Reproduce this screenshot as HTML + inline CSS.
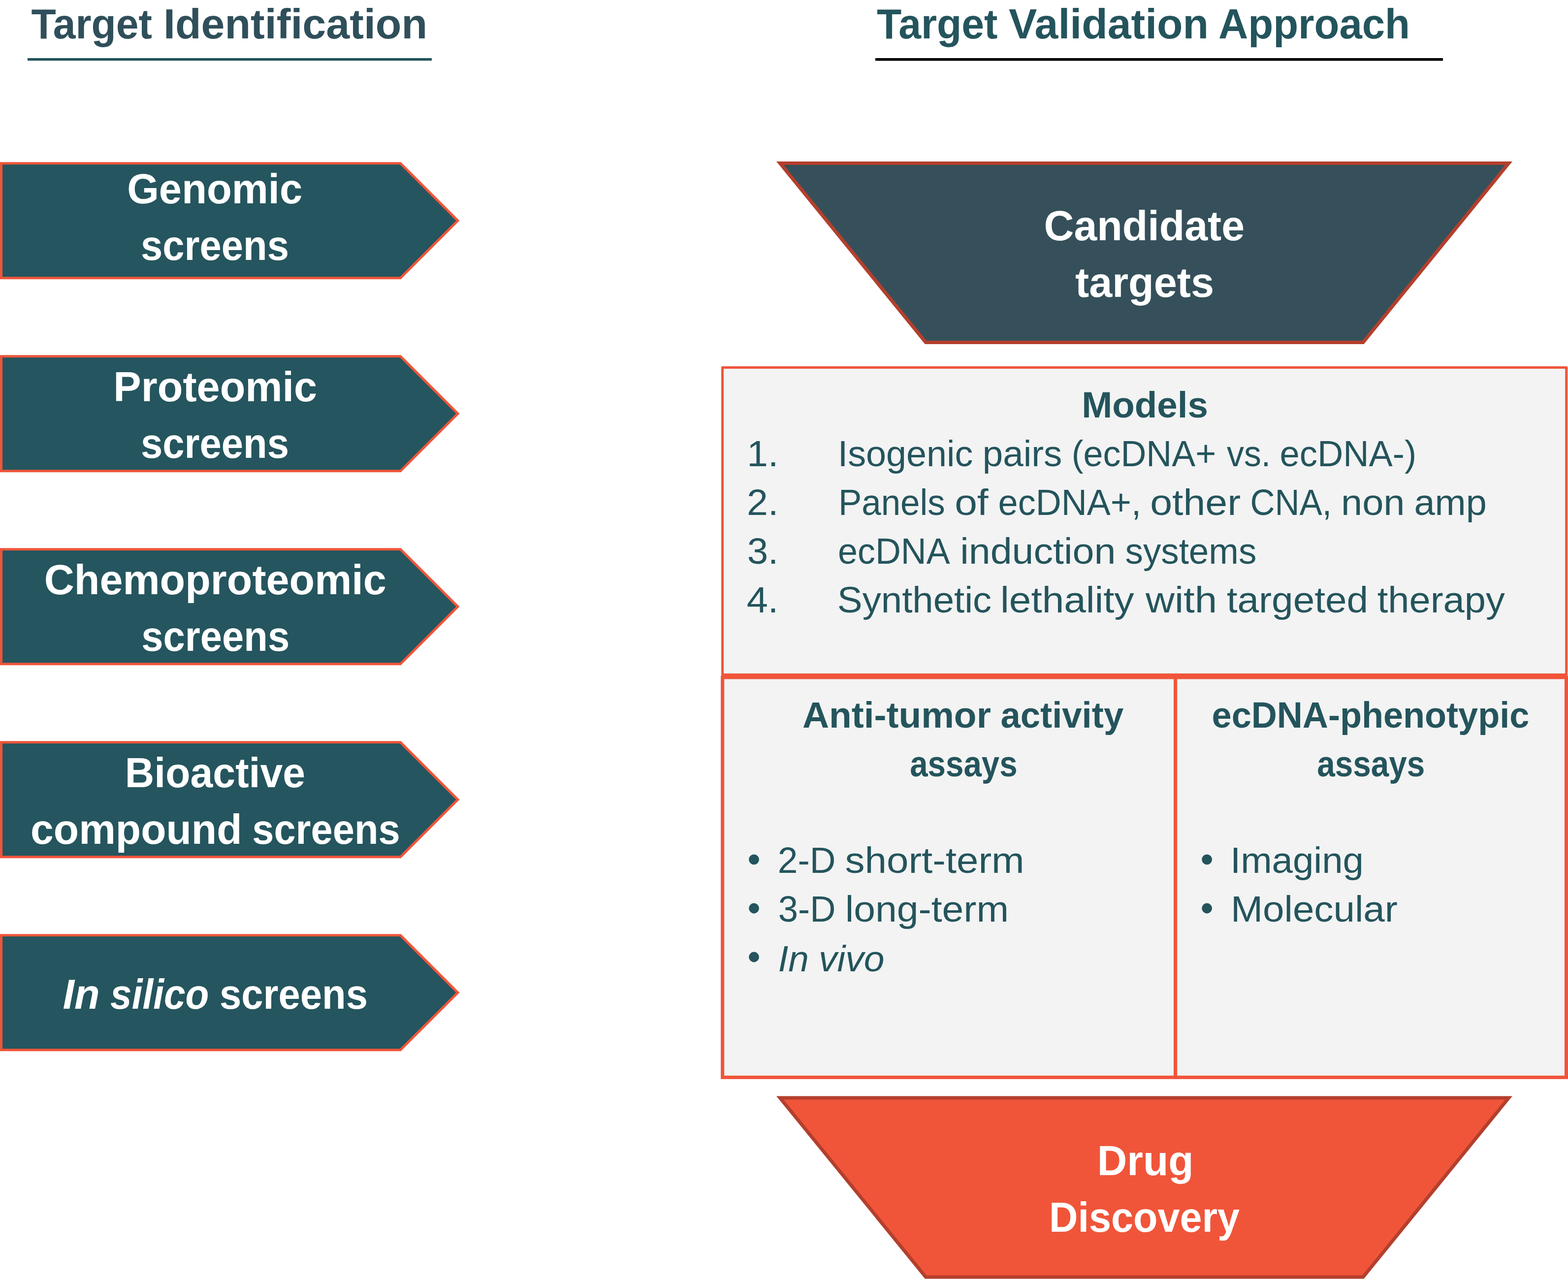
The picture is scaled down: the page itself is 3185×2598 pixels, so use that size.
<!DOCTYPE html>
<html lang="en">
<head>
<meta charset="utf-8">
<title>Target Identification and Target Validation Approach</title>
<style>
html,body{margin:0;padding:0;background:#fff;}
body{width:3185px;height:2598px;overflow:hidden;}
svg{display:block;}
text{font-family:"Liberation Sans",sans-serif;}
</style>
</head>
<body>
<svg xmlns="http://www.w3.org/2000/svg" width="3185" height="2598" viewBox="0 0 3185 2598">
<rect width="3185" height="2598" fill="#fff"/>
<rect x="56" y="118" width="821" height="5.25" fill="#24545C"/>
<rect x="1778" y="118" width="1153" height="5.5" fill="#000"/>
<g fill="#25555E" stroke="#F0553A" stroke-width="5" stroke-linejoin="miter" stroke-miterlimit="10">
<path d="M2.5 331.75H813.4L929.9 448.25L813.4 564.75H2.5Z"/>
<path d="M2.5 723.78H813.4L929.9 840.28L813.4 956.78H2.5Z"/>
<path d="M2.5 1115.81H813.4L929.9 1232.31L813.4 1348.81H2.5Z"/>
<path d="M2.5 1507.84H813.4L929.9 1624.34L813.4 1740.84H2.5Z"/>
<path d="M2.5 1899.87H813.4L929.9 2016.37L813.4 2132.87H2.5Z"/>
</g>
<path d="M1584.3 331.5H3064.7L2768.8 695.5H1880.4Z" fill="#35505A" stroke="#B43F2D" stroke-width="7" stroke-linejoin="miter" stroke-miterlimit="10"/>
<path d="M1584.3 2230.0H3064.7L2768.8 2594.0H1880.4Z" fill="#F0553A" stroke="#B43F2D" stroke-width="7" stroke-linejoin="miter" stroke-miterlimit="10"/>
<rect x="1467.5" y="746.5" width="1714.2" height="624.0" fill="#F3F3F3" stroke="#F0553A" stroke-width="5" stroke-linejoin="round"/>
<rect x="1467.6" y="1376" width="920.0" height="812.4" fill="#F3F3F3" stroke="#F0553A" stroke-width="7"/>
<rect x="2387.6" y="1376" width="793.9" height="812.4" fill="#F3F3F3" stroke="#F0553A" stroke-width="7"/>
<g fill="#24545C">
<circle cx="1531.5" cy="1745.8" r="10.4"/>
<circle cx="1531.5" cy="1845" r="10.4"/>
<circle cx="1531.5" cy="1944" r="10.4"/>
<circle cx="2451.6" cy="1745.8" r="10.4"/>
<circle cx="2451.6" cy="1845" r="10.4"/>
</g>
<text y="78.0" font-size="86.09" font-weight="bold" fill="#2F4F5A"><tspan x="63.54" textLength="245.36" lengthAdjust="spacingAndGlyphs">Target</tspan> <tspan x="331.99" textLength="536.10" lengthAdjust="spacingAndGlyphs">Identification</tspan></text>
<text y="78.0" font-size="86.09" font-weight="bold" fill="#24545C"><tspan x="1781.04" textLength="245.36" lengthAdjust="spacingAndGlyphs">Target</tspan> <tspan x="2049.00" textLength="406.05" lengthAdjust="spacingAndGlyphs">Validation</tspan> <tspan x="2475.06" textLength="388.99" lengthAdjust="spacingAndGlyphs">Approach</tspan></text>
<text x="258.13" y="412.5" font-size="86.09" font-weight="bold" fill="#fff" textLength="356.10" lengthAdjust="spacingAndGlyphs">Genomic</text>
<text x="285.98" y="528" font-size="86.09" font-weight="bold" fill="#fff" textLength="300.97" lengthAdjust="spacingAndGlyphs">screens</text>
<text x="230.35" y="815" font-size="86.09" font-weight="bold" fill="#fff" textLength="413.79" lengthAdjust="spacingAndGlyphs">Proteomic</text>
<text x="285.98" y="930" font-size="86.09" font-weight="bold" fill="#fff" textLength="300.97" lengthAdjust="spacingAndGlyphs">screens</text>
<text x="89.82" y="1207" font-size="86.09" font-weight="bold" fill="#fff" textLength="694.97" lengthAdjust="spacingAndGlyphs">Chemoproteomic</text>
<text x="287.23" y="1322" font-size="86.09" font-weight="bold" fill="#fff" textLength="300.97" lengthAdjust="spacingAndGlyphs">screens</text>
<text x="253.76" y="1599.25" font-size="86.09" font-weight="bold" fill="#fff" textLength="366.36" lengthAdjust="spacingAndGlyphs">Bioactive</text>
<text y="1713.75" font-size="86.09" font-weight="bold" fill="#fff"><tspan x="62.07" textLength="429.43" lengthAdjust="spacingAndGlyphs">compound</tspan> <tspan x="512.23" textLength="300.46" lengthAdjust="spacingAndGlyphs">screens</tspan></text>
<text y="2049.25" font-size="86.09" font-weight="bold" fill="#fff"><tspan x="127.54" font-style="italic" textLength="75.15" lengthAdjust="spacingAndGlyphs">In</tspan> <tspan x="224.09" font-style="italic" textLength="200.21" lengthAdjust="spacingAndGlyphs">silico</tspan> <tspan x="445.98" textLength="300.97" lengthAdjust="spacingAndGlyphs">screens</tspan></text>
<text x="2120.58" y="487.5" font-size="86.09" font-weight="bold" fill="#fff" textLength="407.46" lengthAdjust="spacingAndGlyphs">Candidate</text>
<text x="2184.02" y="603" font-size="86.09" font-weight="bold" fill="#fff" textLength="281.96" lengthAdjust="spacingAndGlyphs">targets</text>
<text x="2228.65" y="2386.5" font-size="86.09" font-weight="bold" fill="#fff" textLength="195.78" lengthAdjust="spacingAndGlyphs">Drug</text>
<text x="2131.11" y="2501.5" font-size="86.09" font-weight="bold" fill="#fff" textLength="386.89" lengthAdjust="spacingAndGlyphs">Discovery</text>
<text x="2197.20" y="848" font-size="73.78" font-weight="bold" fill="#24545C" textLength="256.66" lengthAdjust="spacingAndGlyphs">Models</text>
<text y="946.9" font-size="74.02" fill="#24545C"><tspan x="1517.28" textLength="63.99" lengthAdjust="spacingAndGlyphs">1.</tspan> <tspan x="1701.78" textLength="274.59" lengthAdjust="spacingAndGlyphs">Isogenic</tspan> <tspan x="1995.71" textLength="161.72" lengthAdjust="spacingAndGlyphs">pairs</tspan> <tspan x="2176.64" textLength="293.53" lengthAdjust="spacingAndGlyphs">(ecDNA+</tspan> <tspan x="2492.00" textLength="89.19" lengthAdjust="spacingAndGlyphs">vs.</tspan> <tspan x="2599.57" textLength="277.52" lengthAdjust="spacingAndGlyphs">ecDNA-)</tspan></text>
<text y="1045.9" font-size="74.02" fill="#24545C"><tspan x="1517.09" textLength="64.20" lengthAdjust="spacingAndGlyphs">2.</tspan> <tspan x="1703.00" textLength="216.66" lengthAdjust="spacingAndGlyphs">Panels</tspan> <tspan x="1939.17" textLength="68.52" lengthAdjust="spacingAndGlyphs">of</tspan> <tspan x="2027.58" textLength="290.41" lengthAdjust="spacingAndGlyphs">ecDNA+,</tspan> <tspan x="2336.23" textLength="183.84" lengthAdjust="spacingAndGlyphs">other</tspan> <tspan x="2539.50" textLength="165.63" lengthAdjust="spacingAndGlyphs">CNA,</tspan> <tspan x="2724.01" textLength="129.43" lengthAdjust="spacingAndGlyphs">non</tspan> <tspan x="2872.43" textLength="147.34" lengthAdjust="spacingAndGlyphs">amp</tspan></text>
<text y="1145" font-size="74.02" fill="#24545C"><tspan x="1517.66" textLength="63.56" lengthAdjust="spacingAndGlyphs">3.</tspan> <tspan x="1702.09" textLength="223.58" lengthAdjust="spacingAndGlyphs">ecDNA</tspan> <tspan x="1950.16" textLength="316.16" lengthAdjust="spacingAndGlyphs">induction</tspan> <tspan x="2285.53" textLength="266.79" lengthAdjust="spacingAndGlyphs">systems</tspan></text>
<text y="1244" font-size="74.02" fill="#24545C"><tspan x="1516.65" textLength="64.69" lengthAdjust="spacingAndGlyphs">4.</tspan> <tspan x="1700.88" textLength="313.33" lengthAdjust="spacingAndGlyphs">Synthetic</tspan> <tspan x="2032.09" textLength="271.56" lengthAdjust="spacingAndGlyphs">lethality</tspan> <tspan x="2327.00" textLength="145.08" lengthAdjust="spacingAndGlyphs">with</tspan> <tspan x="2491.69" textLength="287.37" lengthAdjust="spacingAndGlyphs">targeted</tspan> <tspan x="2797.70" textLength="259.17" lengthAdjust="spacingAndGlyphs">therapy</tspan></text>
<text y="1478" font-size="73.78" font-weight="bold" fill="#24545C"><tspan x="1629.97" textLength="382.83" lengthAdjust="spacingAndGlyphs">Anti-tumor</tspan> <tspan x="2032.43" textLength="249.78" lengthAdjust="spacingAndGlyphs">activity</tspan></text>
<text x="1848.23" y="1577" font-size="73.78" font-weight="bold" fill="#24545C" textLength="218.32" lengthAdjust="spacingAndGlyphs">assays</text>
<text x="2461.57" y="1478" font-size="73.78" font-weight="bold" fill="#24545C" textLength="644.72" lengthAdjust="spacingAndGlyphs">ecDNA-phenotypic</text>
<text x="2675.22" y="1577" font-size="73.78" font-weight="bold" fill="#24545C" textLength="219.09" lengthAdjust="spacingAndGlyphs">assays</text>
<text y="1772.9" font-size="74.02" fill="#24545C"><tspan x="1579.80" textLength="117.65" lengthAdjust="spacingAndGlyphs">2-D</tspan> <tspan x="1716.59" textLength="364.08" lengthAdjust="spacingAndGlyphs">short-term</tspan></text>
<text y="1872" font-size="74.02" fill="#24545C"><tspan x="1580.82" textLength="116.61" lengthAdjust="spacingAndGlyphs">3-D</tspan> <tspan x="1716.68" textLength="332.42" lengthAdjust="spacingAndGlyphs">long-term</tspan></text>
<text y="1972.6" font-size="74.02" fill="#24545C"><tspan x="1580.46" font-style="italic" textLength="62.56" lengthAdjust="spacingAndGlyphs">In</tspan> <tspan x="1662.94" font-style="italic" textLength="133.45" lengthAdjust="spacingAndGlyphs">vivo</tspan></text>
<text x="2499.05" y="1772.9" font-size="74.02" fill="#24545C" textLength="270.87" lengthAdjust="spacingAndGlyphs">Imaging</text>
<text x="2499.91" y="1872" font-size="74.02" fill="#24545C" textLength="338.93" lengthAdjust="spacingAndGlyphs">Molecular</text>
</svg>
</body>
</html>
